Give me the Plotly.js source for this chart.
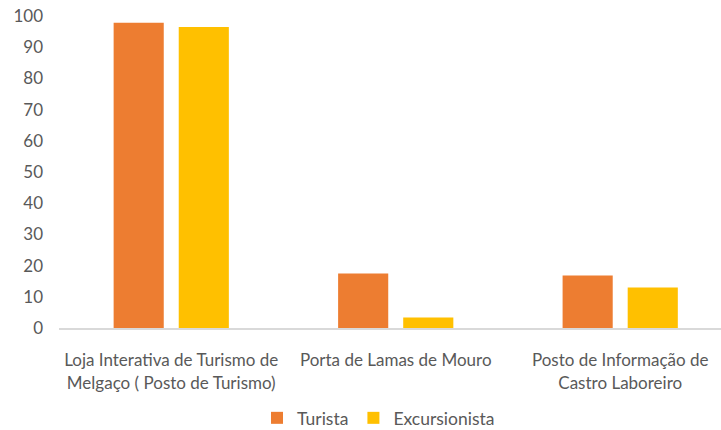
<!DOCTYPE html>
<html><head><meta charset="utf-8">
<script src="https://cdn.plot.ly/plotly-3.0.1.min.js"></script>
<style>body{margin:0;background:#fff}#c{width:721px;height:430px}</style>
</head><body><div id="c"></div>
<script>
const categories = ["Loja Interativa de Turismo de<br>Melgaço ( Posto de Turismo)", "Porta de Lamas de Mouro", "Posto de Informação de<br>Castro Laboreiro"];
const turista = [97.8, 17.5, 16.8];
const excursionista = [96.5, 3.4, 13.0];
const yTicks = [0,10,20,30,40,50,60,70,80,90,100];

const fam = "Lato, 'Open Sans', sans-serif";
const gray = "#595959";
const data = [
  {type:"bar", name:"Turista", x:[0,1,2], y:turista, marker:{color:"#ED7D31"}},
  {type:"bar", name:"Excursionista", x:[0,1,2], y:excursionista, marker:{color:"#FFC000"}}
];
const layout = {
  width:721, height:430,
  margin:{l:59, r:0, t:16, b:102},
  paper_bgcolor:"#fff", plot_bgcolor:"#fff",
  font: {family:fam, size:16, color:gray},
  barmode:"group", bargap:0.42, bargroupgap:0.23,
  showlegend:true,
  legend:{orientation:"h", x:0.525, xanchor:"center", xref:"container", yref:"container", y:0.028, yanchor:"middle",
          font:{family:fam, size:17.5, color:gray}, itemwidth:30, traceorder:"normal"},
  xaxis:{range:[-0.5,2.449], tickvals:[0,1,2], ticktext:categories, showgrid:false, zeroline:false,
         showline:true, linecolor:"#D9D9D9", linewidth:2, ticks:"", tickfont:{family:fam, size:17, color:gray},
         ticklabelstandoff:16, fixedrange:true},
  yaxis:{range:[0,100], tickvals:yTicks, showgrid:false, zeroline:false, showline:false, ticks:"",
         tickfont:{family:fam, size:17, color:gray}, ticklabelstandoff:15, fixedrange:true}
};
Plotly.newPlot("c", data, layout, {displayModeBar:false, staticPlot:true});
</script></body></html>
